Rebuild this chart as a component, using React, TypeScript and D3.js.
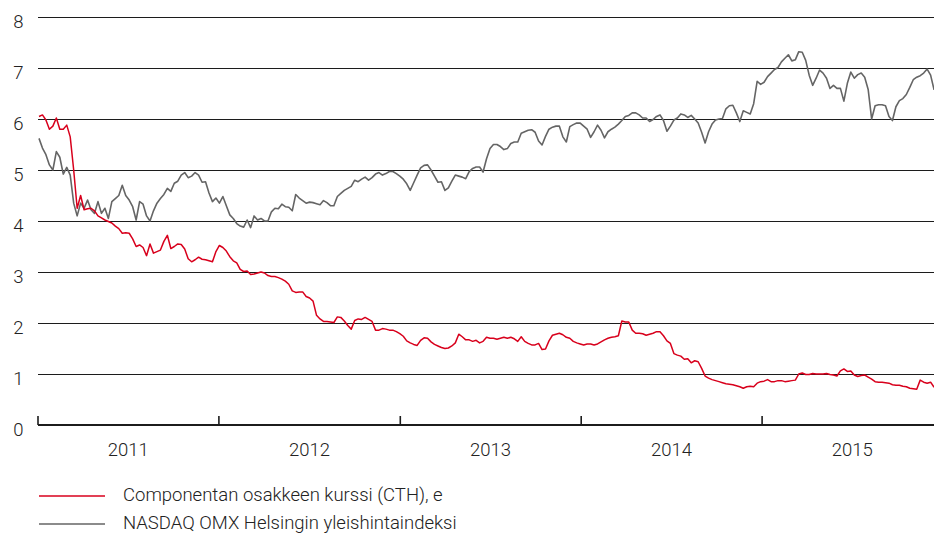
import React, { useEffect, useRef } from "react";
import * as d3 from "d3";

// weekly closes, first week starting Monday 3.1.2011
const firstWeek = new Date(2011, 0, 3);

const cthValues = [
  6.05, 6.08, 5.98, 5.8, 5.86, 6.02, 5.8, 5.8, 5.88, 5.65,
  5.0, 4.25, 4.5, 4.22, 4.24, 4.25, 4.2, 4.1, 4.06, 4.02,
  3.99, 3.96, 3.9, 3.85, 3.76, 3.77, 3.76, 3.65, 3.5, 3.53,
  3.48, 3.32, 3.55, 3.37, 3.4, 3.43, 3.6, 3.72, 3.46, 3.5,
  3.55, 3.54, 3.45, 3.26, 3.2, 3.24, 3.29, 3.25, 3.24, 3.22,
  3.2, 3.4, 3.52, 3.48, 3.41, 3.3, 3.22, 3.18, 3.05, 3.01,
  3.02, 2.95, 2.96, 2.98, 3.0, 2.98, 2.93, 2.91, 2.91, 2.89,
  2.86, 2.82, 2.76, 2.63, 2.6, 2.61, 2.61, 2.52, 2.49, 2.43,
  2.15, 2.08, 2.03, 2.03, 2.02, 2.01, 2.12, 2.11, 2.04, 1.95,
  1.88, 2.05, 2.08, 2.07, 2.11, 2.07, 2.03, 1.86, 1.86, 1.89,
  1.88, 1.86, 1.86, 1.83, 1.79, 1.74, 1.65, 1.61, 1.58, 1.56,
  1.66, 1.71, 1.7, 1.63, 1.58, 1.55, 1.52, 1.5, 1.51, 1.55,
  1.61, 1.78, 1.73, 1.67, 1.67, 1.64, 1.66, 1.61, 1.64, 1.72,
  1.7, 1.7, 1.68, 1.7, 1.72, 1.7, 1.72, 1.69, 1.64, 1.73,
  1.64, 1.6, 1.57, 1.57, 1.6, 1.48, 1.49, 1.65, 1.76, 1.78,
  1.8, 1.77, 1.72, 1.7, 1.64, 1.61, 1.59, 1.57, 1.59, 1.59,
  1.57, 1.59, 1.63, 1.67, 1.7, 1.72, 1.73, 1.75, 2.04, 2.02,
  2.02, 1.86, 1.8, 1.8, 1.79, 1.76, 1.78, 1.8, 1.83, 1.83,
  1.75, 1.65, 1.6, 1.4, 1.37, 1.35, 1.29, 1.3, 1.22, 1.26,
  1.24, 1.11, 0.96, 0.92, 0.89, 0.87, 0.85, 0.83, 0.81, 0.8,
  0.79, 0.77, 0.75, 0.72, 0.75, 0.76, 0.75, 0.82, 0.85, 0.86,
  0.89, 0.85, 0.85, 0.87, 0.87, 0.85, 0.86, 0.87, 0.88, 1.0,
  1.02, 0.99, 0.99, 1.01, 1.0, 1.0, 1.0, 1.01, 0.99, 0.98,
  0.96, 1.06, 1.1, 1.05, 1.06, 0.98, 0.95, 0.97, 0.98, 0.94,
  0.9, 0.85, 0.84, 0.84, 0.83, 0.82, 0.79, 0.78, 0.78, 0.76,
  0.75, 0.72, 0.71, 0.7, 0.88, 0.84, 0.82, 0.84, 0.74,
];

const omxValues = [
  5.62, 5.43, 5.3, 5.1, 5.0, 5.36, 5.25, 4.92, 5.05, 4.9,
  4.35, 4.1, 4.35, 4.25, 4.41, 4.22, 4.15, 4.38, 4.15, 4.25,
  4.05, 4.38, 4.44, 4.5, 4.7, 4.5, 4.41, 4.28, 4.02, 4.38,
  4.33, 4.1, 4.0, 4.2, 4.35, 4.44, 4.52, 4.64, 4.58, 4.74,
  4.78, 4.9, 4.95, 4.85, 4.88, 4.95, 4.9, 4.76, 4.77, 4.55,
  4.38, 4.45, 4.35, 4.48, 4.3, 4.12, 4.05, 3.95, 3.9, 3.88,
  4.02, 3.87, 4.1, 4.02, 4.05, 4.0, 4.0, 4.18, 4.25, 4.24,
  4.33, 4.28, 4.27, 4.2, 4.52, 4.45, 4.4, 4.35, 4.37, 4.36,
  4.34, 4.32, 4.4, 4.36, 4.3, 4.3, 4.48, 4.54, 4.6, 4.64,
  4.68, 4.8, 4.77, 4.82, 4.86, 4.8, 4.85, 4.92, 4.95, 4.9,
  4.93, 4.97, 4.97, 4.93, 4.88, 4.82, 4.73, 4.6, 4.75, 4.9,
  5.04, 5.09, 5.1, 5.0, 4.88, 4.76, 4.77, 4.6, 4.65, 4.78,
  4.9, 4.88, 4.86, 4.83, 4.97, 5.03, 5.06, 5.06, 4.96, 5.22,
  5.42, 5.5, 5.5, 5.46, 5.4, 5.42, 5.52, 5.55, 5.55, 5.72,
  5.75, 5.78, 5.79, 5.74, 5.57, 5.49, 5.66, 5.8, 5.84, 5.86,
  5.86, 5.65, 5.55, 5.85, 5.89, 5.92, 5.92, 5.86, 5.8, 5.64,
  5.75, 5.88, 5.78, 5.63, 5.75, 5.8, 5.84, 5.9, 5.97, 6.05,
  6.07, 6.12, 6.12, 6.08, 6.02, 6.02, 5.95, 5.99, 6.05, 6.08,
  5.97, 5.76, 5.86, 5.98, 6.02, 6.1, 6.08, 6.03, 6.07, 6.0,
  5.92, 5.74, 5.53, 5.75, 5.9, 5.98, 6.0, 6.01, 6.2, 6.26,
  6.27, 6.12, 5.95, 6.16, 6.13, 6.1, 6.3, 6.74, 6.68, 6.72,
  6.83, 6.9, 6.97, 7.01, 7.12, 7.19, 7.26, 7.14, 7.16, 7.32,
  7.31, 7.15, 6.86, 6.66, 6.8, 6.96, 6.9, 6.8, 6.6, 6.66,
  6.6, 6.6, 6.35, 6.7, 6.92, 6.8, 6.87, 6.9, 6.82, 6.58,
  6.0, 6.26, 6.28, 6.28, 6.26, 6.05, 5.97, 6.24, 6.36, 6.4,
  6.48, 6.62, 6.77, 6.82, 6.85, 6.9, 6.98, 6.86, 6.57,
];

const years = [2011, 2012, 2013, 2014, 2015];
const yTicks = [0, 1, 2, 3, 4, 5, 6, 7, 8];
const legendLabels = [
  "Componentan osakkeen kurssi (CTH), e",
  "NASDAQ OMX Helsingin yleishintaindeksi",
];
const colors = ["#d8001c", "#656565"];

const App: React.FC = () => {
  const ref = useRef<SVGSVGElement | null>(null);

  useEffect(() => {
    if (!ref.current) return;
    const width = 934;
    const height = 533;
    const left = 38;
    const right = 934;

    const svg = d3.select(ref.current);
    svg.selectAll("*").remove();

    const x = d3
      .scaleTime()
      .domain([new Date(2011, 0, 1), new Date(2016, 0, 1)])
      .range([left, 943]);
    const y = d3.scaleLinear().domain([0, 8]).range([425, 17]);

    const font = "Roboto, 'Noto Sans', sans-serif";

    // horizontal grid
    svg
      .append("g")
      .selectAll("line")
      .data(yTicks.filter((d) => d > 0))
      .enter()
      .append("line")
      .attr("x1", left)
      .attr("x2", right)
      .attr("y1", (d) => y(d) + 0.5)
      .attr("y2", (d) => y(d) + 0.5)
      .attr("stroke", "#1c1c1c")
      .attr("stroke-width", 1.2);

    // y labels
    svg
      .append("g")
      .selectAll("text")
      .data(yTicks)
      .enter()
      .append("text")
      .attr("x", 23.5)
      .attr("y", (d) => y(d) + 11)
      .attr("text-anchor", "end")
      .style("font-family", font)
      .style("font-weight", 300)
      .style("font-size", "18.5px")
      .attr("fill", "#222")
      .text((d) => d);

    // x axis
    svg
      .append("line")
      .attr("x1", left)
      .attr("x2", right)
      .attr("y1", y(0))
      .attr("y2", y(0))
      .attr("stroke", "#1c1c1c")
      .attr("stroke-width", 2);

    svg
      .append("g")
      .selectAll("line")
      .data(years)
      .enter()
      .append("line")
      .attr("x1", (d) => x(new Date(d, 0, 1)))
      .attr("x2", (d) => x(new Date(d, 0, 1)))
      .attr("y1", y(0) - 9)
      .attr("y2", y(0))
      .attr("stroke", "#1c1c1c")
      .attr("stroke-width", 1.6);

    svg
      .append("g")
      .selectAll("text")
      .data(years)
      .enter()
      .append("text")
      .attr("x", (d) => x(new Date(d, 6, 2)))
      .attr("y", 456)
      .attr("text-anchor", "middle")
      .style("font-family", font)
      .style("font-weight", 300)
      .style("font-size", "18.5px")
      .attr("fill", "#222")
      .text((d) => d);

    // series
    const line = d3
      .line<number>()
      .x((d, i) => x(d3.timeDay.offset(firstWeek, i * 7)))
      .y((d) => y(d));

    const plot = svg.append("g");
    plot
      .append("path")
      .datum(omxValues)
      .attr("d", line)
      .attr("fill", "none")
      .attr("stroke", colors[1])
      .attr("stroke-width", 1.6)
      .attr("stroke-linejoin", "round");
    plot
      .append("path")
      .datum(cthValues)
      .attr("d", line)
      .attr("fill", "none")
      .attr("stroke", colors[0])
      .attr("stroke-width", 1.5)
      .attr("stroke-linejoin", "round");

    // legend
    const legend = svg.append("g");
    legendLabels.forEach((label, i) => {
      const ly = 496 + i * 28;
      legend
        .append("line")
        .attr("x1", 39)
        .attr("x2", 105)
        .attr("y1", ly)
        .attr("y2", ly)
        .attr("stroke", colors[i])
        .attr("stroke-width", 1.6);
      legend
        .append("text")
        .attr("x", 123)
        .attr("y", ly + 4.5)
        .style("font-family", font)
        .style("font-weight", 300)
        .style("font-size", "18.5px")
        .attr("fill", "#222")
        .text(label);
    });

    svg.attr("width", width).attr("height", height);
  }, []);

  return (
    <svg
      ref={ref}
      width={934}
      height={533}
      style={{ position: "absolute", left: 0, top: 0, background: "#fff" }}
    />
  );
};

export default App;
